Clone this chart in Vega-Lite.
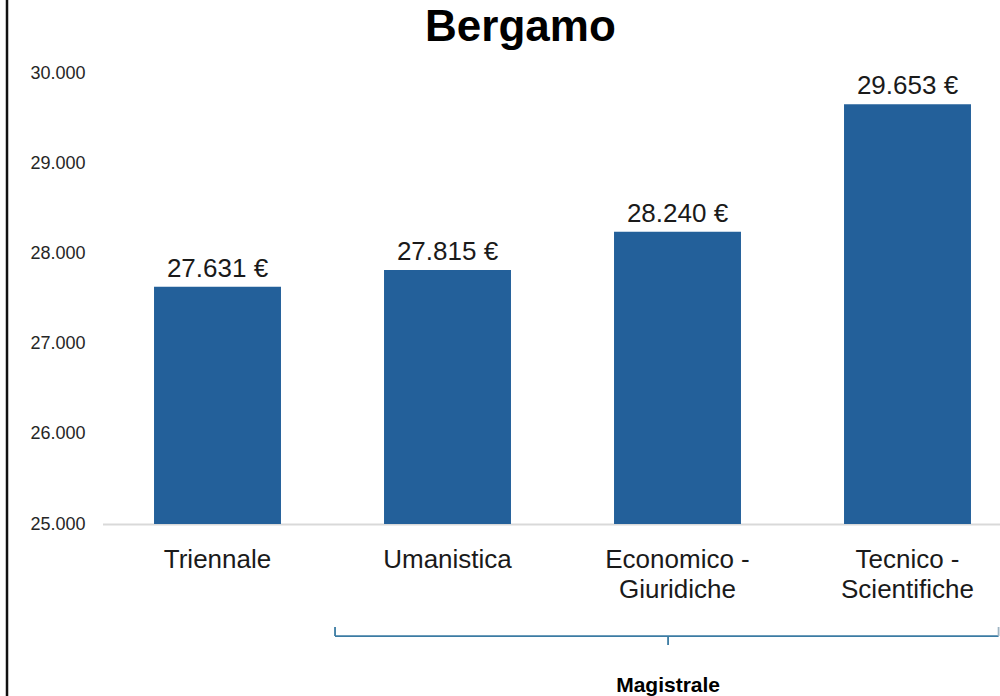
{
  "$schema": "https://vega.github.io/schema/vega-lite/v6.json",
  "width": 897.5,
  "height": 451,
  "autosize": {"type": "none"},
  "padding": {"left": 102.5, "top": 73, "right": 0, "bottom": 172},
  "background": "white",
  "config": {"view": {"stroke": null}, "font": "Liberation Sans"},
  "resolve": {"scale": {"x": "independent"}, "axis": {"x": "independent"}},
  "layer": [
    {
      "data": {"values": [
        {"corso": "Triennale", "stipendio": 27631},
        {"corso": "Umanistica", "stipendio": 27815},
        {"corso": "Economico - Giuridiche", "stipendio": 28240},
        {"corso": "Tecnico - Scientifiche", "stipendio": 29653}
      ]},
      "transform": [{"calculate": "replace(format(datum.stipendio, ','), ',', '.') + ' €'", "as": "etichetta"}],
      "encoding": {
        "x": {"field": "corso", "type": "nominal", "sort": null,
          "scale": {"range": [0, 920], "paddingInner": 0.448, "paddingOuter": 0.224},
          "axis": {"title": null, "domain": true, "domainColor": "#d9d9d9", "domainWidth": 2, "ticks": false, "labelAngle": 0, "labelFontSize": 26, "labelColor": "#1a1a1a", "labelPadding": 43, "labelBaseline": "alphabetic", "labelLineHeight": 30, "labelFont": "Liberation Sans",
            "labelExpr": "indexof(datum.label, ' - ') > 0 ? [split(datum.label, ' - ')[0] + ' -', split(datum.label, ' - ')[1]] : datum.label"}},
        "y": {"field": "stipendio", "type": "quantitative",
          "scale": {"domain": [25000, 30000], "zero": false, "nice": false},
          "axis": {"title": null, "domain": false, "ticks": false, "grid": false, "values": [25000, 26000, 27000, 28000, 29000, 30000], "labelExpr": "replace(format(datum.value, ','), ',', '.')", "labelFontSize": 18, "labelColor": "#262626", "labelPadding": 17.5, "labelFont": "Liberation Sans"}}
      },
      "layer": [
        {"mark": {"type": "bar", "color": "#23609a"}, "encoding": {"y2": {"datum": 25000}}},
        {"mark": {"type": "text", "baseline": "alphabetic", "dy": -10, "fontSize": 26, "color": "#1a1a1a", "font": "Liberation Sans"}, "encoding": {"text": {"field": "etichetta"}}}
      ]
    },
    {
      "data": {"values": [{"gruppo": "Magistrale", "citta": "Bergamo"}]},
      "layer": [
        {"mark": {"type": "rule", "color": "#3b7ba3", "strokeWidth": 1.8},
          "encoding": {
            "x": {"datum": 1.011, "type": "quantitative", "scale": {"domain": [0, 4], "range": [0, 920]}, "axis": null},
            "x2": {"datum": 3.896},
            "y": {"datum": 23758, "type": "quantitative", "scale": {"domain": [25000, 30000], "zero": false, "nice": false}}
          }},
        {"mark": {"type": "rule", "color": "#3b7ba3", "strokeWidth": 1.8},
          "encoding": {
            "x": {"datum": 1.011, "type": "quantitative", "scale": {"domain": [0, 4], "range": [0, 920]}, "axis": null},
            "y": {"datum": 23858, "type": "quantitative", "scale": {"domain": [25000, 30000], "zero": false, "nice": false}},
            "y2": {"datum": 23758}
          }},
        {"mark": {"type": "rule", "color": "#9fb4c2", "strokeWidth": 1.8},
          "encoding": {
            "x": {"datum": 3.896, "type": "quantitative", "scale": {"domain": [0, 4], "range": [0, 920]}, "axis": null},
            "y": {"datum": 23858, "type": "quantitative", "scale": {"domain": [25000, 30000], "zero": false, "nice": false}},
            "y2": {"datum": 23758}
          }},
        {"mark": {"type": "rule", "color": "#3b7ba3", "strokeWidth": 1.8},
          "encoding": {
            "x": {"datum": 2.459, "type": "quantitative", "scale": {"domain": [0, 4], "range": [0, 920]}, "axis": null},
            "y": {"datum": 23758, "type": "quantitative", "scale": {"domain": [25000, 30000], "zero": false, "nice": false}},
            "y2": {"datum": 23659}
          }},
        {"mark": {"type": "rule", "color": "#111111", "strokeWidth": 2.5},
          "encoding": {
            "x": {"datum": -0.4152, "type": "quantitative", "scale": {"domain": [0, 4], "range": [0, 920]}, "axis": null},
            "y": {"datum": 31000, "type": "quantitative", "scale": {"domain": [25000, 30000], "zero": false, "nice": false}},
            "y2": {"datum": 22800}
          }},
        {"mark": {"type": "text", "align": "center", "baseline": "alphabetic", "fontSize": 21, "fontWeight": "bold", "color": "#000000", "font": "Liberation Sans"},
          "encoding": {
            "x": {"datum": 2.459, "type": "quantitative", "scale": {"domain": [0, 4], "range": [0, 920]}, "axis": null},
            "y": {"datum": 23137, "type": "quantitative", "scale": {"domain": [25000, 30000], "zero": false, "nice": false}},
            "text": {"field": "gruppo"}
          }},
        {"mark": {"type": "text", "align": "center", "baseline": "alphabetic", "fontSize": 44, "fontWeight": "bold", "color": "#000000", "font": "Liberation Sans"},
          "encoding": {
            "x": {"datum": 1.817, "type": "quantitative", "scale": {"domain": [0, 4], "range": [0, 920]}, "axis": null},
            "y": {"datum": 30355, "type": "quantitative", "scale": {"domain": [25000, 30000], "zero": false, "nice": false}},
            "text": {"field": "citta"}
          }}
      ]
    }
  ]
}
